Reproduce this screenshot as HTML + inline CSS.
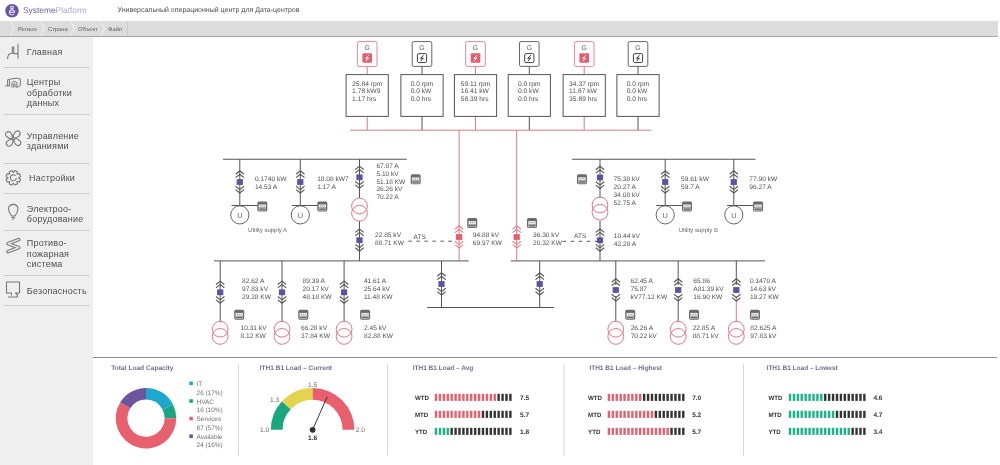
<!DOCTYPE html>
<html><head><meta charset="utf-8">
<style>
html,body{margin:0;padding:0;width:1000px;height:465px;overflow:hidden;background:#fff;font-family:"Liberation Sans", sans-serif;}
#hdr{position:absolute;left:0;top:0;width:1000px;height:21px;background:#fff;}
#crumb{position:absolute;left:0;top:21px;width:998px;height:15px;background:#dcdcdc;border-bottom:1px solid #a6a6a6;}
#side{position:absolute;left:0;top:37px;width:92.5px;height:428px;background:#efefef;}
.sep{position:absolute;left:4px;width:86px;height:1px;background:#cfcfcf;}
.mi{position:absolute;left:26.8px;font-size:9px;line-height:10.6px;color:#4f4f4f;letter-spacing:0.22px;}
svg{position:absolute;left:0;top:0;will-change:transform;}
#side{will-change:transform;}
text{font-family:"Liberation Sans", sans-serif;text-rendering:geometricPrecision;}
</style></head><body>
<div id="hdr"></div>
<div id="crumb"></div>
<div id="side">
 <div class="mi" style="top:10.0px">Главная</div>
 <div class="sep" style="top:29.5px"></div>
 <div class="mi" style="top:40.0px">Центры<br>обработки<br>данных</div>
 <div class="sep" style="top:76.5px"></div>
 <div class="mi" style="top:93.5px">Управление<br>зданиями</div>
 <div class="sep" style="top:126px"></div>
 <div class="mi" style="top:136.0px;left:29px">Настройки</div>
 <div class="sep" style="top:155.5px"></div>
 <div class="mi" style="top:166.5px">Электроо-<br>борудование</div>
 <div class="sep" style="top:193px"></div>
 <div class="mi" style="top:201.0px">Противо-<br>пожарная<br>система</div>
 <div class="sep" style="top:238px"></div>
 <div class="mi" style="top:248.5px">Безопасность</div>
 <div class="sep" style="top:267.5px"></div>
</div>
<svg width="1000" height="465" viewBox="0 0 1000 465">
<!-- header -->
<circle cx="12" cy="10.7" r="6.8" fill="#6a55a2"/>
<g fill="none" stroke="#ece6fa" stroke-width="1.1">
<circle cx="12" cy="7.5" r="1.3"/><path d="M9.5,12.2 H14.6 A2.6,2.6 0 1 0 14.0,14.0"/>
</g>
<text x="23" y="12.9" font-size="8.4" fill="#6d5fa8">Systeme<tspan fill="#aca5d0">Platform</tspan></text>
<text x="117.6" y="12.3" font-size="7" fill="#4c4c4c">Универсальный операционный центр для Дата-центров</text>
<!-- breadcrumb -->
<g fill="none" stroke="#ececec" stroke-width="1.3">
<path d="M10,21 L14,28.5 L10,36"/><path d="M40.5,21 L44.5,28.5 L40.5,36"/><path d="M70.5,21 L74.5,28.5 L70.5,36"/><path d="M100.5,21 L104.5,28.5 L100.5,36"/>
</g>
<line x1="127.5" y1="21" x2="127.5" y2="36" stroke="#cbcbcb" stroke-width="1"/>
<g font-size="5.8" fill="#5a5a5a">
<text x="18" y="30.5">Регион</text><text x="48" y="30.5">Страна</text><text x="78" y="30.5">Объект</text><text x="108" y="30.5">Файл</text>
</g>
<!-- sidebar icons -->
<g fill="none" stroke="#777" stroke-width="1.1" stroke-linecap="round" stroke-linejoin="round">
<path d="M7.5,58.5 Q8,53.5 11.5,53.2 L12.3,53.2 L12.3,47 L13.8,47 L13.8,53.6 L17.5,53.6 M18,44 L18,58"/>
<path d="M5.6,85.8 L9.3,85.8 M7.6,85.6 L7.6,79.6 L12.4,78.8 M9.4,86 L9.4,80.3 M12.4,78.6 Q16.2,77.6 20.4,78.9 L20.4,85.4 L16.9,87.4 M11.9,87.2 L11.9,82.6 Q14.4,79.8 16.9,82.6 L16.9,87.4 M13.7,87 L13.7,83.8 Q14.4,82.9 15.1,83.8 L15.1,87" stroke-width="1.0"/>
<path d="M12.49,137.89 C9.66,139.87 3.16,135.35 6.34,132.45 C9.38,129.69 12.92,134.36 12.49,137.89 M13.91,137.89 C11.93,135.06 16.45,128.56 19.35,131.74 C22.11,134.78 17.44,138.32 13.91,137.89 M13.91,139.31 C16.74,137.33 23.24,141.85 20.06,144.75 C17.02,147.51 13.48,142.84 13.91,139.31 M12.49,139.31 C14.47,142.14 9.95,148.64 7.05,145.46 C4.29,142.42 8.96,138.88 12.49,139.31"/>
<path d="M20.56,179.22 L19.44,181.93 L17.24,181.49 L16.99,181.74 L17.43,183.94 L14.72,185.06 L13.48,183.20 L13.12,183.20 L11.88,185.06 L9.17,183.94 L9.61,181.74 L9.36,181.49 L7.16,181.93 L6.04,179.22 L7.90,177.98 L7.90,177.62 L6.04,176.38 L7.16,173.67 L9.36,174.11 L9.61,173.86 L9.17,171.66 L11.88,170.54 L13.12,172.40 L13.48,172.40 L14.72,170.54 L17.43,171.66 L16.99,173.86 L17.24,174.11 L19.44,173.67 L20.56,176.38 L18.70,177.62 L18.70,177.98 Z M15.23,175.50 A3,3 0 1 0 16.25,178.32"/>
<path d="M11.5,216 Q8.5,212 8.5,208.5 A4.8,4.8 0 0 1 18,208.5 Q18,212 15,216 Z M12,217.5 L14.5,217.5 M12.5,219 L14,219"/>
<path d="M18.6,239.6 L8,243.6 L18.6,247.6 L8,251.6" stroke-width="3.6"/><path d="M18.6,239.6 L8,243.6 L18.6,247.6 L8,251.6" stroke="#efefef" stroke-width="1.5"/>
<path d="M6.5,282 L19.5,282 L19.5,293 L15.5,293 L17.5,295 L17.5,297 L8.5,297 M6.5,282 L6.5,293 L11.5,293 L11.5,295"/>
</g>
<line x1="367.20" y1="66.50" x2="367.20" y2="74.50" stroke="#dc7a85" stroke-width="1.0" />
<line x1="367.20" y1="116.40" x2="367.20" y2="130.20" stroke="#dc7a85" stroke-width="1.0" />
<rect x="357.40" y="41.6" width="19.6" height="24.8" rx="1.6" fill="#fff" stroke="#dc7a85" stroke-width="0.9"/>
<text x="367.20" y="49.60" font-size="6.8" fill="#555"  text-anchor="middle" font-weight="normal" >G</text>
<rect x="362.40" y="53.2" width="9.6" height="9.6" rx="1" fill="#e85d6c"/>
<path d="M368.80,55.2 L365.60,58.3 L368.60,58.0 L365.80,61.2" fill="none" stroke="#fff" stroke-width="1.0"/>
<rect x="346.10" y="74.6" width="42.2" height="41.8" fill="#fff" stroke="#555555" stroke-width="1"/>
<text x="352.12" y="85.66" font-size="6.7" fill="#4e4e4e"  text-anchor="start" font-weight="normal" >25.84 rpm</text>
<text x="352.12" y="93.36" font-size="6.7" fill="#4e4e4e"  text-anchor="start" font-weight="normal" >1.78 kW9</text>
<text x="352.12" y="101.06" font-size="6.7" fill="#4e4e4e"  text-anchor="start" font-weight="normal" >1.17 hrs</text>
<line x1="422.00" y1="66.50" x2="422.00" y2="74.50" stroke="#555555" stroke-width="1.0" />
<line x1="422.00" y1="116.40" x2="422.00" y2="130.20" stroke="#555555" stroke-width="1.0" />
<rect x="412.20" y="41.6" width="19.6" height="24.8" rx="1.6" fill="#fff" stroke="#555555" stroke-width="0.9"/>
<text x="422.00" y="49.60" font-size="6.8" fill="#555"  text-anchor="middle" font-weight="normal" >G</text>
<rect x="417.40" y="53.6" width="9.2" height="9" rx="1.4" fill="#fff" stroke="#444" stroke-width="1"/>
<path d="M423.60,55.2 L420.40,58.3 L423.40,58.0 L420.60,61.2" fill="none" stroke="#333" stroke-width="1.0"/>
<rect x="400.90" y="74.6" width="42.2" height="41.8" fill="#fff" stroke="#555555" stroke-width="1"/>
<text x="410.64" y="85.66" font-size="6.7" fill="#4e4e4e"  text-anchor="start" font-weight="normal" >0.0 rpm</text>
<text x="410.64" y="93.36" font-size="6.7" fill="#4e4e4e"  text-anchor="start" font-weight="normal" >0.0 kW</text>
<text x="410.64" y="101.06" font-size="6.7" fill="#4e4e4e"  text-anchor="start" font-weight="normal" >0.0 hrs</text>
<line x1="475.50" y1="66.50" x2="475.50" y2="74.50" stroke="#dc7a85" stroke-width="1.0" />
<line x1="475.50" y1="116.40" x2="475.50" y2="130.20" stroke="#dc7a85" stroke-width="1.0" />
<rect x="465.70" y="41.6" width="19.6" height="24.8" rx="1.6" fill="#fff" stroke="#dc7a85" stroke-width="0.9"/>
<text x="475.50" y="49.60" font-size="6.8" fill="#555"  text-anchor="middle" font-weight="normal" >G</text>
<rect x="470.70" y="53.2" width="9.6" height="9.6" rx="1" fill="#e85d6c"/>
<path d="M477.10,55.2 L473.90,58.3 L476.90,58.0 L474.10,61.2" fill="none" stroke="#fff" stroke-width="1.0"/>
<rect x="454.40" y="74.6" width="42.2" height="41.8" fill="#fff" stroke="#555555" stroke-width="1"/>
<text x="460.66" y="85.66" font-size="6.7" fill="#4e4e4e"  text-anchor="start" font-weight="normal" >59.11 rpm</text>
<text x="460.66" y="93.36" font-size="6.7" fill="#4e4e4e"  text-anchor="start" font-weight="normal" >16.41 kW</text>
<text x="460.66" y="101.06" font-size="6.7" fill="#4e4e4e"  text-anchor="start" font-weight="normal" >58.39 hrs</text>
<line x1="529.30" y1="66.50" x2="529.30" y2="74.50" stroke="#555555" stroke-width="1.0" />
<line x1="529.30" y1="116.40" x2="529.30" y2="130.20" stroke="#555555" stroke-width="1.0" />
<rect x="519.50" y="41.6" width="19.6" height="24.8" rx="1.6" fill="#fff" stroke="#555555" stroke-width="0.9"/>
<text x="529.30" y="49.60" font-size="6.8" fill="#555"  text-anchor="middle" font-weight="normal" >G</text>
<rect x="524.70" y="53.6" width="9.2" height="9" rx="1.4" fill="#fff" stroke="#444" stroke-width="1"/>
<path d="M530.90,55.2 L527.70,58.3 L530.70,58.0 L527.90,61.2" fill="none" stroke="#333" stroke-width="1.0"/>
<rect x="508.20" y="74.6" width="42.2" height="41.8" fill="#fff" stroke="#555555" stroke-width="1"/>
<text x="517.94" y="85.66" font-size="6.7" fill="#4e4e4e"  text-anchor="start" font-weight="normal" >0.0 rpm</text>
<text x="517.94" y="93.36" font-size="6.7" fill="#4e4e4e"  text-anchor="start" font-weight="normal" >0.0 kW</text>
<text x="517.94" y="101.06" font-size="6.7" fill="#4e4e4e"  text-anchor="start" font-weight="normal" >0.0 hrs</text>
<line x1="584.20" y1="66.50" x2="584.20" y2="74.50" stroke="#dc7a85" stroke-width="1.0" />
<line x1="584.20" y1="116.40" x2="584.20" y2="130.20" stroke="#dc7a85" stroke-width="1.0" />
<rect x="574.40" y="41.6" width="19.6" height="24.8" rx="1.6" fill="#fff" stroke="#dc7a85" stroke-width="0.9"/>
<text x="584.20" y="49.60" font-size="6.8" fill="#555"  text-anchor="middle" font-weight="normal" >G</text>
<rect x="579.40" y="53.2" width="9.6" height="9.6" rx="1" fill="#e85d6c"/>
<path d="M585.80,55.2 L582.60,58.3 L585.60,58.0 L582.80,61.2" fill="none" stroke="#fff" stroke-width="1.0"/>
<rect x="563.10" y="74.6" width="42.2" height="41.8" fill="#fff" stroke="#555555" stroke-width="1"/>
<text x="569.12" y="85.66" font-size="6.7" fill="#4e4e4e"  text-anchor="start" font-weight="normal" >34.37 rpm</text>
<text x="569.12" y="93.36" font-size="6.7" fill="#4e4e4e"  text-anchor="start" font-weight="normal" >11.87 kW</text>
<text x="569.12" y="101.06" font-size="6.7" fill="#4e4e4e"  text-anchor="start" font-weight="normal" >35.89 hrs</text>
<line x1="638.00" y1="66.50" x2="638.00" y2="74.50" stroke="#555555" stroke-width="1.0" />
<line x1="638.00" y1="116.40" x2="638.00" y2="130.20" stroke="#555555" stroke-width="1.0" />
<rect x="628.20" y="41.6" width="19.6" height="24.8" rx="1.6" fill="#fff" stroke="#555555" stroke-width="0.9"/>
<text x="638.00" y="49.60" font-size="6.8" fill="#555"  text-anchor="middle" font-weight="normal" >G</text>
<rect x="633.40" y="53.6" width="9.2" height="9" rx="1.4" fill="#fff" stroke="#444" stroke-width="1"/>
<path d="M639.60,55.2 L636.40,58.3 L639.40,58.0 L636.60,61.2" fill="none" stroke="#333" stroke-width="1.0"/>
<rect x="616.90" y="74.6" width="42.2" height="41.8" fill="#fff" stroke="#555555" stroke-width="1"/>
<text x="626.64" y="85.66" font-size="6.7" fill="#4e4e4e"  text-anchor="start" font-weight="normal" >0.0 rpm</text>
<text x="626.64" y="93.36" font-size="6.7" fill="#4e4e4e"  text-anchor="start" font-weight="normal" >0.0 kW</text>
<text x="626.64" y="101.06" font-size="6.7" fill="#4e4e4e"  text-anchor="start" font-weight="normal" >0.0 hrs</text>
<line x1="350.20" y1="130.20" x2="651.40" y2="130.20" stroke="#dc7a85" stroke-width="1.0" />
<line x1="459.10" y1="130.20" x2="459.10" y2="261.00" stroke="#dc7a85" stroke-width="1.0" />
<line x1="516.70" y1="130.20" x2="516.70" y2="261.00" stroke="#dc7a85" stroke-width="1.0" />
<line x1="223.00" y1="159.25" x2="406.80" y2="159.25" stroke="#555555" stroke-width="1.0" />
<line x1="239.80" y1="159.10" x2="239.80" y2="205.50" stroke="#555555" stroke-width="1.0" />
<polyline points="235.60,174.20 239.80,170.80 244.00,174.20" fill="none" stroke="#555555" stroke-width="1.1"/>
<polyline points="235.60,177.60 239.80,174.20 244.00,177.60" fill="none" stroke="#555555" stroke-width="1.1"/>
<polyline points="235.60,186.20 239.80,189.60 244.00,186.20" fill="none" stroke="#555555" stroke-width="1.1"/>
<polyline points="235.60,189.60 239.80,193.00 244.00,189.60" fill="none" stroke="#555555" stroke-width="1.1"/>
<rect x="236.70" y="179.10" width="6.2" height="5.8" fill="#5e52a2"/>
<line x1="231.50" y1="205.50" x2="257.80" y2="205.50" stroke="#555555" stroke-width="1.0" />
<g transform="translate(257.30,201.40)"><rect x="0" y="0" width="10" height="10" rx="1.7" fill="#6a6a6a"/><rect x="1.3" y="3.1" width="7.4" height="2.9" fill="#f6f6f6"/><rect x="2.6" y="3.8" width="1" height="1.5" fill="#9a9a9a"/><rect x="4.5" y="3.8" width="1" height="1.5" fill="#9a9a9a"/><rect x="6.4" y="3.8" width="1" height="1.5" fill="#9a9a9a"/><rect x="1.6" y="6.7" width="6.8" height="2.1" fill="none" stroke="#d8d8d8" stroke-width="0.6"/></g>
<circle cx="239.80" cy="214.90" r="9.1" fill="#fff" stroke="#555555" stroke-width="0.9"/>
<text x="239.80" y="217.81" font-size="7.4" fill="#6a6a6a"  text-anchor="middle" font-weight="normal" >U</text>
<text x="254.90" y="181.13" font-size="6.6" fill="#4e4e4e"  text-anchor="start" font-weight="normal" >0.1740 kW</text>
<text x="254.90" y="188.93" font-size="6.6" fill="#4e4e4e"  text-anchor="start" font-weight="normal" >14.53 A</text>
<line x1="300.30" y1="159.10" x2="300.30" y2="205.50" stroke="#555555" stroke-width="1.0" />
<polyline points="296.10,174.20 300.30,170.80 304.50,174.20" fill="none" stroke="#555555" stroke-width="1.1"/>
<polyline points="296.10,177.60 300.30,174.20 304.50,177.60" fill="none" stroke="#555555" stroke-width="1.1"/>
<polyline points="296.10,186.20 300.30,189.60 304.50,186.20" fill="none" stroke="#555555" stroke-width="1.1"/>
<polyline points="296.10,189.60 300.30,193.00 304.50,189.60" fill="none" stroke="#555555" stroke-width="1.1"/>
<rect x="297.20" y="179.10" width="6.2" height="5.8" fill="#5e52a2"/>
<line x1="292.00" y1="205.50" x2="317.80" y2="205.50" stroke="#555555" stroke-width="1.0" />
<g transform="translate(317.30,201.40)"><rect x="0" y="0" width="10" height="10" rx="1.7" fill="#6a6a6a"/><rect x="1.3" y="3.1" width="7.4" height="2.9" fill="#f6f6f6"/><rect x="2.6" y="3.8" width="1" height="1.5" fill="#9a9a9a"/><rect x="4.5" y="3.8" width="1" height="1.5" fill="#9a9a9a"/><rect x="6.4" y="3.8" width="1" height="1.5" fill="#9a9a9a"/><rect x="1.6" y="6.7" width="6.8" height="2.1" fill="none" stroke="#d8d8d8" stroke-width="0.6"/></g>
<circle cx="300.30" cy="214.90" r="9.1" fill="#fff" stroke="#555555" stroke-width="0.9"/>
<text x="300.30" y="217.81" font-size="7.4" fill="#6a6a6a"  text-anchor="middle" font-weight="normal" >U</text>
<text x="317.20" y="181.13" font-size="6.6" fill="#4e4e4e"  text-anchor="start" font-weight="normal" >18.08 kW7</text>
<text x="317.20" y="188.93" font-size="6.6" fill="#4e4e4e"  text-anchor="start" font-weight="normal" >1.17 A</text>
<text x="248.10" y="232.41" font-size="6.0" fill="#666"  text-anchor="start" font-weight="normal" >Utility supply A</text>
<line x1="359.50" y1="159.10" x2="359.50" y2="198.00" stroke="#555555" stroke-width="1.0" />
<line x1="359.50" y1="221.00" x2="359.50" y2="261.00" stroke="#555555" stroke-width="1.0" />
<polyline points="355.30,169.50 359.50,166.10 363.70,169.50" fill="none" stroke="#555555" stroke-width="1.1"/>
<polyline points="355.30,172.90 359.50,169.50 363.70,172.90" fill="none" stroke="#555555" stroke-width="1.1"/>
<polyline points="355.30,181.50 359.50,184.90 363.70,181.50" fill="none" stroke="#555555" stroke-width="1.1"/>
<polyline points="355.30,184.90 359.50,188.30 363.70,184.90" fill="none" stroke="#555555" stroke-width="1.1"/>
<rect x="356.40" y="174.40" width="6.2" height="5.8" fill="#5e52a2"/>
<circle cx="359.50" cy="206.00" r="7.9" fill="none" stroke="#e06a76" stroke-width="0.9"/>
<circle cx="359.50" cy="213.20" r="7.9" fill="none" stroke="#e06a76" stroke-width="0.9"/>
<polyline points="355.30,232.40 359.50,229.00 363.70,232.40" fill="none" stroke="#555555" stroke-width="1.1"/>
<polyline points="355.30,235.80 359.50,232.40 363.70,235.80" fill="none" stroke="#555555" stroke-width="1.1"/>
<polyline points="355.30,244.40 359.50,247.80 363.70,244.40" fill="none" stroke="#555555" stroke-width="1.1"/>
<polyline points="355.30,247.80 359.50,251.20 363.70,247.80" fill="none" stroke="#555555" stroke-width="1.1"/>
<rect x="356.40" y="237.30" width="6.2" height="5.8" fill="#5e52a2"/>
<g transform="translate(410.70,174.30)"><rect x="0" y="0" width="10" height="10" rx="1.7" fill="#6a6a6a"/><rect x="1.3" y="3.1" width="7.4" height="2.9" fill="#f6f6f6"/><rect x="2.6" y="3.8" width="1" height="1.5" fill="#9a9a9a"/><rect x="4.5" y="3.8" width="1" height="1.5" fill="#9a9a9a"/><rect x="6.4" y="3.8" width="1" height="1.5" fill="#9a9a9a"/><rect x="1.6" y="6.7" width="6.8" height="2.1" fill="none" stroke="#d8d8d8" stroke-width="0.6"/></g>
<text x="376.40" y="167.73" font-size="6.6" fill="#4e4e4e"  text-anchor="start" font-weight="normal" >67.87 A</text>
<text x="376.40" y="175.63" font-size="6.6" fill="#4e4e4e"  text-anchor="start" font-weight="normal" >5.10 kV</text>
<text x="376.40" y="183.53" font-size="6.6" fill="#4e4e4e"  text-anchor="start" font-weight="normal" >51.18 KW</text>
<text x="376.40" y="191.43" font-size="6.6" fill="#4e4e4e"  text-anchor="start" font-weight="normal" >26.26 kV</text>
<text x="376.40" y="199.33" font-size="6.6" fill="#4e4e4e"  text-anchor="start" font-weight="normal" >70.22 A</text>
<text x="375.00" y="236.93" font-size="6.6" fill="#4e4e4e"  text-anchor="start" font-weight="normal" >22.85 kV</text>
<text x="375.00" y="244.73" font-size="6.6" fill="#4e4e4e"  text-anchor="start" font-weight="normal" >88.71 KW</text>
<text x="413.50" y="238.53" font-size="6.6" fill="#4e4e4e"  text-anchor="start" font-weight="normal" >ATS</text>
<line x1="408.30" y1="241.20" x2="453.00" y2="241.20" stroke="#555555" stroke-width="1" stroke-dasharray="3.5 4.5"/>
<polyline points="454.90,229.20 459.10,225.80 463.30,229.20" fill="none" stroke="#e3848e" stroke-width="1.1"/>
<polyline points="454.90,232.60 459.10,229.20 463.30,232.60" fill="none" stroke="#e3848e" stroke-width="1.1"/>
<polyline points="454.90,241.20 459.10,244.60 463.30,241.20" fill="none" stroke="#e3848e" stroke-width="1.1"/>
<polyline points="454.90,244.60 459.10,248.00 463.30,244.60" fill="none" stroke="#e3848e" stroke-width="1.1"/>
<rect x="456.00" y="234.10" width="6.2" height="5.8" fill="#e85d6c"/>
<g transform="translate(467.20,218.00)"><rect x="0" y="0" width="10" height="10" rx="1.7" fill="#6a6a6a"/><rect x="1.3" y="3.1" width="7.4" height="2.9" fill="#f6f6f6"/><rect x="2.6" y="3.8" width="1" height="1.5" fill="#9a9a9a"/><rect x="4.5" y="3.8" width="1" height="1.5" fill="#9a9a9a"/><rect x="6.4" y="3.8" width="1" height="1.5" fill="#9a9a9a"/><rect x="1.6" y="6.7" width="6.8" height="2.1" fill="none" stroke="#d8d8d8" stroke-width="0.6"/></g>
<text x="472.80" y="237.13" font-size="6.6" fill="#4e4e4e"  text-anchor="start" font-weight="normal" >94.88 kV</text>
<text x="472.80" y="244.73" font-size="6.6" fill="#4e4e4e"  text-anchor="start" font-weight="normal" >69.97 KW</text>
<line x1="572.00" y1="159.25" x2="755.50" y2="159.25" stroke="#555555" stroke-width="1.0" />
<line x1="600.00" y1="159.10" x2="600.00" y2="198.00" stroke="#555555" stroke-width="1.0" />
<line x1="600.00" y1="221.00" x2="600.00" y2="261.00" stroke="#555555" stroke-width="1.0" />
<polyline points="595.80,169.70 600.00,166.30 604.20,169.70" fill="none" stroke="#555555" stroke-width="1.1"/>
<polyline points="595.80,173.10 600.00,169.70 604.20,173.10" fill="none" stroke="#555555" stroke-width="1.1"/>
<polyline points="595.80,181.70 600.00,185.10 604.20,181.70" fill="none" stroke="#555555" stroke-width="1.1"/>
<polyline points="595.80,185.10 600.00,188.50 604.20,185.10" fill="none" stroke="#555555" stroke-width="1.1"/>
<rect x="596.90" y="174.60" width="6.2" height="5.8" fill="#5e52a2"/>
<circle cx="600.00" cy="205.00" r="7.9" fill="none" stroke="#e06a76" stroke-width="0.9"/>
<circle cx="600.00" cy="212.20" r="7.9" fill="none" stroke="#e06a76" stroke-width="0.9"/>
<polyline points="595.80,232.40 600.00,229.00 604.20,232.40" fill="none" stroke="#555555" stroke-width="1.1"/>
<polyline points="595.80,235.80 600.00,232.40 604.20,235.80" fill="none" stroke="#555555" stroke-width="1.1"/>
<polyline points="595.80,244.40 600.00,247.80 604.20,244.40" fill="none" stroke="#555555" stroke-width="1.1"/>
<polyline points="595.80,247.80 600.00,251.20 604.20,247.80" fill="none" stroke="#555555" stroke-width="1.1"/>
<rect x="596.90" y="237.30" width="6.2" height="5.8" fill="#5e52a2"/>
<g transform="translate(577.00,174.20)"><rect x="0" y="0" width="10" height="10" rx="1.7" fill="#6a6a6a"/><rect x="1.3" y="3.1" width="7.4" height="2.9" fill="#f6f6f6"/><rect x="2.6" y="3.8" width="1" height="1.5" fill="#9a9a9a"/><rect x="4.5" y="3.8" width="1" height="1.5" fill="#9a9a9a"/><rect x="6.4" y="3.8" width="1" height="1.5" fill="#9a9a9a"/><rect x="1.6" y="6.7" width="6.8" height="2.1" fill="none" stroke="#d8d8d8" stroke-width="0.6"/></g>
<text x="613.60" y="181.23" font-size="6.6" fill="#4e4e4e"  text-anchor="start" font-weight="normal" >75.38 kV</text>
<text x="613.60" y="189.03" font-size="6.6" fill="#4e4e4e"  text-anchor="start" font-weight="normal" >20.27 A</text>
<text x="613.60" y="196.83" font-size="6.6" fill="#4e4e4e"  text-anchor="start" font-weight="normal" >34.08 kV</text>
<text x="613.60" y="204.63" font-size="6.6" fill="#4e4e4e"  text-anchor="start" font-weight="normal" >52.75 A</text>
<text x="613.80" y="238.13" font-size="6.6" fill="#4e4e4e"  text-anchor="start" font-weight="normal" >10.44 kV</text>
<text x="613.80" y="245.83" font-size="6.6" fill="#4e4e4e"  text-anchor="start" font-weight="normal" >42.28 A</text>
<text x="574.00" y="238.13" font-size="6.6" fill="#4e4e4e"  text-anchor="start" font-weight="normal" >ATS</text>
<line x1="562.70" y1="241.30" x2="597.00" y2="241.30" stroke="#555555" stroke-width="1" stroke-dasharray="3.5 4.5"/>
<polyline points="512.50,229.20 516.70,225.80 520.90,229.20" fill="none" stroke="#e3848e" stroke-width="1.1"/>
<polyline points="512.50,232.60 516.70,229.20 520.90,232.60" fill="none" stroke="#e3848e" stroke-width="1.1"/>
<polyline points="512.50,241.20 516.70,244.60 520.90,241.20" fill="none" stroke="#e3848e" stroke-width="1.1"/>
<polyline points="512.50,244.60 516.70,248.00 520.90,244.60" fill="none" stroke="#e3848e" stroke-width="1.1"/>
<rect x="513.60" y="234.10" width="6.2" height="5.8" fill="#e85d6c"/>
<g transform="translate(527.00,218.00)"><rect x="0" y="0" width="10" height="10" rx="1.7" fill="#6a6a6a"/><rect x="1.3" y="3.1" width="7.4" height="2.9" fill="#f6f6f6"/><rect x="2.6" y="3.8" width="1" height="1.5" fill="#9a9a9a"/><rect x="4.5" y="3.8" width="1" height="1.5" fill="#9a9a9a"/><rect x="6.4" y="3.8" width="1" height="1.5" fill="#9a9a9a"/><rect x="1.6" y="6.7" width="6.8" height="2.1" fill="none" stroke="#d8d8d8" stroke-width="0.6"/></g>
<text x="533.00" y="237.03" font-size="6.6" fill="#4e4e4e"  text-anchor="start" font-weight="normal" >36.30 kV</text>
<text x="533.00" y="244.53" font-size="6.6" fill="#4e4e4e"  text-anchor="start" font-weight="normal" >20.32 KW</text>
<line x1="665.20" y1="159.10" x2="665.20" y2="205.50" stroke="#555555" stroke-width="1.0" />
<polyline points="661.00,174.20 665.20,170.80 669.40,174.20" fill="none" stroke="#555555" stroke-width="1.1"/>
<polyline points="661.00,177.60 665.20,174.20 669.40,177.60" fill="none" stroke="#555555" stroke-width="1.1"/>
<polyline points="661.00,186.20 665.20,189.60 669.40,186.20" fill="none" stroke="#555555" stroke-width="1.1"/>
<polyline points="661.00,189.60 665.20,193.00 669.40,189.60" fill="none" stroke="#555555" stroke-width="1.1"/>
<rect x="662.10" y="179.10" width="6.2" height="5.8" fill="#5e52a2"/>
<line x1="656.20" y1="205.50" x2="682.50" y2="205.50" stroke="#555555" stroke-width="1.0" />
<g transform="translate(682.00,201.40)"><rect x="0" y="0" width="10" height="10" rx="1.7" fill="#6a6a6a"/><rect x="1.3" y="3.1" width="7.4" height="2.9" fill="#f6f6f6"/><rect x="2.6" y="3.8" width="1" height="1.5" fill="#9a9a9a"/><rect x="4.5" y="3.8" width="1" height="1.5" fill="#9a9a9a"/><rect x="6.4" y="3.8" width="1" height="1.5" fill="#9a9a9a"/><rect x="1.6" y="6.7" width="6.8" height="2.1" fill="none" stroke="#d8d8d8" stroke-width="0.6"/></g>
<circle cx="665.20" cy="214.90" r="9.1" fill="#fff" stroke="#555555" stroke-width="0.9"/>
<text x="665.20" y="217.81" font-size="7.4" fill="#6a6a6a"  text-anchor="middle" font-weight="normal" >U</text>
<text x="681.00" y="181.13" font-size="6.6" fill="#4e4e4e"  text-anchor="start" font-weight="normal" >59.61 kW</text>
<text x="681.00" y="188.93" font-size="6.6" fill="#4e4e4e"  text-anchor="start" font-weight="normal" >59.7 A</text>
<line x1="733.80" y1="159.10" x2="733.80" y2="205.50" stroke="#555555" stroke-width="1.0" />
<polyline points="729.60,174.20 733.80,170.80 738.00,174.20" fill="none" stroke="#555555" stroke-width="1.1"/>
<polyline points="729.60,177.60 733.80,174.20 738.00,177.60" fill="none" stroke="#555555" stroke-width="1.1"/>
<polyline points="729.60,186.20 733.80,189.60 738.00,186.20" fill="none" stroke="#555555" stroke-width="1.1"/>
<polyline points="729.60,189.60 733.80,193.00 738.00,189.60" fill="none" stroke="#555555" stroke-width="1.1"/>
<rect x="730.70" y="179.10" width="6.2" height="5.8" fill="#5e52a2"/>
<line x1="727.10" y1="205.50" x2="753.60" y2="205.50" stroke="#555555" stroke-width="1.0" />
<g transform="translate(753.10,201.40)"><rect x="0" y="0" width="10" height="10" rx="1.7" fill="#6a6a6a"/><rect x="1.3" y="3.1" width="7.4" height="2.9" fill="#f6f6f6"/><rect x="2.6" y="3.8" width="1" height="1.5" fill="#9a9a9a"/><rect x="4.5" y="3.8" width="1" height="1.5" fill="#9a9a9a"/><rect x="6.4" y="3.8" width="1" height="1.5" fill="#9a9a9a"/><rect x="1.6" y="6.7" width="6.8" height="2.1" fill="none" stroke="#d8d8d8" stroke-width="0.6"/></g>
<circle cx="733.80" cy="214.90" r="9.1" fill="#fff" stroke="#555555" stroke-width="0.9"/>
<text x="733.80" y="217.81" font-size="7.4" fill="#6a6a6a"  text-anchor="middle" font-weight="normal" >U</text>
<text x="749.30" y="181.13" font-size="6.6" fill="#4e4e4e"  text-anchor="start" font-weight="normal" >77.90 kW</text>
<text x="749.30" y="188.93" font-size="6.6" fill="#4e4e4e"  text-anchor="start" font-weight="normal" >96.27 A</text>
<text x="678.70" y="232.41" font-size="6.0" fill="#666"  text-anchor="start" font-weight="normal" >Utility supply B</text>
<line x1="214.00" y1="260.90" x2="468.70" y2="260.90" stroke="#555555" stroke-width="1.0" />
<line x1="510.70" y1="260.90" x2="765.00" y2="260.90" stroke="#555555" stroke-width="1.0" />
<line x1="427.20" y1="307.50" x2="554.20" y2="307.50" stroke="#555555" stroke-width="1.0" />
<line x1="441.50" y1="260.90" x2="441.50" y2="307.50" stroke="#555555" stroke-width="1.0" />
<polyline points="437.30,276.20 441.50,272.80 445.70,276.20" fill="none" stroke="#555555" stroke-width="1.1"/>
<polyline points="437.30,279.60 441.50,276.20 445.70,279.60" fill="none" stroke="#555555" stroke-width="1.1"/>
<polyline points="437.30,288.20 441.50,291.60 445.70,288.20" fill="none" stroke="#555555" stroke-width="1.1"/>
<polyline points="437.30,291.60 441.50,295.00 445.70,291.60" fill="none" stroke="#555555" stroke-width="1.1"/>
<rect x="438.40" y="281.10" width="6.2" height="5.8" fill="#5e52a2"/>
<line x1="539.70" y1="260.90" x2="539.70" y2="307.50" stroke="#555555" stroke-width="1.0" />
<polyline points="535.50,276.20 539.70,272.80 543.90,276.20" fill="none" stroke="#555555" stroke-width="1.1"/>
<polyline points="535.50,279.60 539.70,276.20 543.90,279.60" fill="none" stroke="#555555" stroke-width="1.1"/>
<polyline points="535.50,288.20 539.70,291.60 543.90,288.20" fill="none" stroke="#555555" stroke-width="1.1"/>
<polyline points="535.50,291.60 539.70,295.00 543.90,291.60" fill="none" stroke="#555555" stroke-width="1.1"/>
<rect x="536.60" y="281.10" width="6.2" height="5.8" fill="#5e52a2"/>
<line x1="220.20" y1="260.90" x2="220.20" y2="321.50" stroke="#555555" stroke-width="1.0" />
<polyline points="216.00,284.50 220.20,281.10 224.40,284.50" fill="none" stroke="#555555" stroke-width="1.1"/>
<polyline points="216.00,287.90 220.20,284.50 224.40,287.90" fill="none" stroke="#555555" stroke-width="1.1"/>
<polyline points="216.00,296.50 220.20,299.90 224.40,296.50" fill="none" stroke="#555555" stroke-width="1.1"/>
<polyline points="216.00,299.90 220.20,303.30 224.40,299.90" fill="none" stroke="#555555" stroke-width="1.1"/>
<rect x="217.10" y="289.40" width="6.2" height="5.8" fill="#5e52a2"/>
<circle cx="220.20" cy="329.20" r="7.9" fill="none" stroke="#e06a76" stroke-width="0.9"/>
<circle cx="220.20" cy="336.40" r="7.9" fill="none" stroke="#e06a76" stroke-width="0.9"/>
<g transform="translate(234.20,309.80)"><rect x="0" y="0" width="10" height="10" rx="1.7" fill="#6a6a6a"/><rect x="1.3" y="3.1" width="7.4" height="2.9" fill="#f6f6f6"/><rect x="2.6" y="3.8" width="1" height="1.5" fill="#9a9a9a"/><rect x="4.5" y="3.8" width="1" height="1.5" fill="#9a9a9a"/><rect x="6.4" y="3.8" width="1" height="1.5" fill="#9a9a9a"/><rect x="1.6" y="6.7" width="6.8" height="2.1" fill="none" stroke="#d8d8d8" stroke-width="0.6"/></g>
<text x="242.00" y="283.43" font-size="6.6" fill="#4e4e4e"  text-anchor="start" font-weight="normal" >82.62 A</text>
<text x="242.00" y="291.13" font-size="6.6" fill="#4e4e4e"  text-anchor="start" font-weight="normal" >97.83 kV</text>
<text x="242.00" y="298.83" font-size="6.6" fill="#4e4e4e"  text-anchor="start" font-weight="normal" >29.28 KW</text>
<text x="240.50" y="330.03" font-size="6.6" fill="#4e4e4e"  text-anchor="start" font-weight="normal" >10.31 kV</text>
<text x="240.50" y="337.63" font-size="6.6" fill="#4e4e4e"  text-anchor="start" font-weight="normal" >8.12 KW</text>
<line x1="282.00" y1="260.90" x2="282.00" y2="321.50" stroke="#555555" stroke-width="1.0" />
<polyline points="277.80,284.50 282.00,281.10 286.20,284.50" fill="none" stroke="#555555" stroke-width="1.1"/>
<polyline points="277.80,287.90 282.00,284.50 286.20,287.90" fill="none" stroke="#555555" stroke-width="1.1"/>
<polyline points="277.80,296.50 282.00,299.90 286.20,296.50" fill="none" stroke="#555555" stroke-width="1.1"/>
<polyline points="277.80,299.90 282.00,303.30 286.20,299.90" fill="none" stroke="#555555" stroke-width="1.1"/>
<rect x="278.90" y="289.40" width="6.2" height="5.8" fill="#5e52a2"/>
<circle cx="282.00" cy="329.20" r="7.9" fill="none" stroke="#e06a76" stroke-width="0.9"/>
<circle cx="282.00" cy="336.40" r="7.9" fill="none" stroke="#e06a76" stroke-width="0.9"/>
<g transform="translate(298.30,309.80)"><rect x="0" y="0" width="10" height="10" rx="1.7" fill="#6a6a6a"/><rect x="1.3" y="3.1" width="7.4" height="2.9" fill="#f6f6f6"/><rect x="2.6" y="3.8" width="1" height="1.5" fill="#9a9a9a"/><rect x="4.5" y="3.8" width="1" height="1.5" fill="#9a9a9a"/><rect x="6.4" y="3.8" width="1" height="1.5" fill="#9a9a9a"/><rect x="1.6" y="6.7" width="6.8" height="2.1" fill="none" stroke="#d8d8d8" stroke-width="0.6"/></g>
<text x="302.60" y="283.43" font-size="6.6" fill="#4e4e4e"  text-anchor="start" font-weight="normal" >89.39 A</text>
<text x="302.60" y="291.13" font-size="6.6" fill="#4e4e4e"  text-anchor="start" font-weight="normal" >20.17 kV</text>
<text x="302.60" y="298.83" font-size="6.6" fill="#4e4e4e"  text-anchor="start" font-weight="normal" >48.18 KW</text>
<text x="301.00" y="330.03" font-size="6.6" fill="#4e4e4e"  text-anchor="start" font-weight="normal" >66.28 kV</text>
<text x="301.00" y="337.63" font-size="6.6" fill="#4e4e4e"  text-anchor="start" font-weight="normal" >37.84 KW</text>
<line x1="344.10" y1="260.90" x2="344.10" y2="321.50" stroke="#555555" stroke-width="1.0" />
<polyline points="339.90,284.50 344.10,281.10 348.30,284.50" fill="none" stroke="#555555" stroke-width="1.1"/>
<polyline points="339.90,287.90 344.10,284.50 348.30,287.90" fill="none" stroke="#555555" stroke-width="1.1"/>
<polyline points="339.90,296.50 344.10,299.90 348.30,296.50" fill="none" stroke="#555555" stroke-width="1.1"/>
<polyline points="339.90,299.90 344.10,303.30 348.30,299.90" fill="none" stroke="#555555" stroke-width="1.1"/>
<rect x="341.00" y="289.40" width="6.2" height="5.8" fill="#5e52a2"/>
<circle cx="344.10" cy="329.20" r="7.9" fill="none" stroke="#e06a76" stroke-width="0.9"/>
<circle cx="344.10" cy="336.40" r="7.9" fill="none" stroke="#e06a76" stroke-width="0.9"/>
<g transform="translate(360.10,309.80)"><rect x="0" y="0" width="10" height="10" rx="1.7" fill="#6a6a6a"/><rect x="1.3" y="3.1" width="7.4" height="2.9" fill="#f6f6f6"/><rect x="2.6" y="3.8" width="1" height="1.5" fill="#9a9a9a"/><rect x="4.5" y="3.8" width="1" height="1.5" fill="#9a9a9a"/><rect x="6.4" y="3.8" width="1" height="1.5" fill="#9a9a9a"/><rect x="1.6" y="6.7" width="6.8" height="2.1" fill="none" stroke="#d8d8d8" stroke-width="0.6"/></g>
<text x="363.90" y="283.43" font-size="6.6" fill="#4e4e4e"  text-anchor="start" font-weight="normal" >41.61 A</text>
<text x="363.90" y="291.13" font-size="6.6" fill="#4e4e4e"  text-anchor="start" font-weight="normal" >25.64 kV</text>
<text x="363.90" y="298.83" font-size="6.6" fill="#4e4e4e"  text-anchor="start" font-weight="normal" >11.48 KW</text>
<text x="364.10" y="330.03" font-size="6.6" fill="#4e4e4e"  text-anchor="start" font-weight="normal" >2.45 kV</text>
<text x="364.10" y="337.63" font-size="6.6" fill="#4e4e4e"  text-anchor="start" font-weight="normal" >82.88 KW</text>
<line x1="615.80" y1="260.90" x2="615.80" y2="285.00" stroke="#555555" stroke-width="1.0" />
<line x1="615.80" y1="296.00" x2="615.80" y2="321.50" stroke="#555555" stroke-width="1.0" />
<polyline points="611.60,282.20 615.80,278.80 620.00,282.20" fill="none" stroke="#555555" stroke-width="1.1"/>
<polyline points="611.60,285.60 615.80,282.20 620.00,285.60" fill="none" stroke="#555555" stroke-width="1.1"/>
<polyline points="611.60,294.20 615.80,297.60 620.00,294.20" fill="none" stroke="#555555" stroke-width="1.1"/>
<polyline points="611.60,297.60 615.80,301.00 620.00,297.60" fill="none" stroke="#555555" stroke-width="1.1"/>
<rect x="612.70" y="287.10" width="6.2" height="5.8" fill="#5e52a2"/>
<circle cx="615.80" cy="329.20" r="7.9" fill="none" stroke="#e06a76" stroke-width="0.9"/>
<circle cx="615.80" cy="336.40" r="7.9" fill="none" stroke="#e06a76" stroke-width="0.9"/>
<g transform="translate(625.20,309.80)"><rect x="0" y="0" width="10" height="10" rx="1.7" fill="#6a6a6a"/><rect x="1.3" y="3.1" width="7.4" height="2.9" fill="#f6f6f6"/><rect x="2.6" y="3.8" width="1" height="1.5" fill="#9a9a9a"/><rect x="4.5" y="3.8" width="1" height="1.5" fill="#9a9a9a"/><rect x="6.4" y="3.8" width="1" height="1.5" fill="#9a9a9a"/><rect x="1.6" y="6.7" width="6.8" height="2.1" fill="none" stroke="#d8d8d8" stroke-width="0.6"/></g>
<text x="630.50" y="283.23" font-size="6.6" fill="#4e4e4e"  text-anchor="start" font-weight="normal" >62.45 A</text>
<text x="630.50" y="290.93" font-size="6.6" fill="#4e4e4e"  text-anchor="start" font-weight="normal" >75.87</text>
<text x="630.50" y="298.63" font-size="6.6" fill="#4e4e4e"  text-anchor="start" font-weight="normal" >kV77.12 KW</text>
<text x="630.70" y="330.23" font-size="6.6" fill="#4e4e4e"  text-anchor="start" font-weight="normal" >26.26 A</text>
<text x="630.70" y="337.83" font-size="6.6" fill="#4e4e4e"  text-anchor="start" font-weight="normal" >70.22 kV</text>
<line x1="678.20" y1="260.90" x2="678.20" y2="285.00" stroke="#555555" stroke-width="1.0" />
<line x1="678.20" y1="296.00" x2="678.20" y2="321.50" stroke="#555555" stroke-width="1.0" />
<polyline points="674.00,282.20 678.20,278.80 682.40,282.20" fill="none" stroke="#555555" stroke-width="1.1"/>
<polyline points="674.00,285.60 678.20,282.20 682.40,285.60" fill="none" stroke="#555555" stroke-width="1.1"/>
<polyline points="674.00,294.20 678.20,297.60 682.40,294.20" fill="none" stroke="#555555" stroke-width="1.1"/>
<polyline points="674.00,297.60 678.20,301.00 682.40,297.60" fill="none" stroke="#555555" stroke-width="1.1"/>
<rect x="675.10" y="287.10" width="6.2" height="5.8" fill="#5e52a2"/>
<circle cx="678.20" cy="329.20" r="7.9" fill="none" stroke="#e06a76" stroke-width="0.9"/>
<circle cx="678.20" cy="336.40" r="7.9" fill="none" stroke="#e06a76" stroke-width="0.9"/>
<g transform="translate(689.00,309.80)"><rect x="0" y="0" width="10" height="10" rx="1.7" fill="#6a6a6a"/><rect x="1.3" y="3.1" width="7.4" height="2.9" fill="#f6f6f6"/><rect x="2.6" y="3.8" width="1" height="1.5" fill="#9a9a9a"/><rect x="4.5" y="3.8" width="1" height="1.5" fill="#9a9a9a"/><rect x="6.4" y="3.8" width="1" height="1.5" fill="#9a9a9a"/><rect x="1.6" y="6.7" width="6.8" height="2.1" fill="none" stroke="#d8d8d8" stroke-width="0.6"/></g>
<text x="693.30" y="283.23" font-size="6.6" fill="#4e4e4e"  text-anchor="start" font-weight="normal" >65.86</text>
<text x="693.30" y="290.93" font-size="6.6" fill="#4e4e4e"  text-anchor="start" font-weight="normal" >A81.39 kV</text>
<text x="693.30" y="298.63" font-size="6.6" fill="#4e4e4e"  text-anchor="start" font-weight="normal" >16.90 KW</text>
<text x="692.70" y="330.23" font-size="6.6" fill="#4e4e4e"  text-anchor="start" font-weight="normal" >22.85 A</text>
<text x="692.70" y="337.83" font-size="6.6" fill="#4e4e4e"  text-anchor="start" font-weight="normal" >88.71 kV</text>
<line x1="736.30" y1="260.90" x2="736.30" y2="285.00" stroke="#555555" stroke-width="1.0" />
<line x1="736.30" y1="296.00" x2="736.30" y2="321.50" stroke="#dc7a85" stroke-width="1.0" />
<polyline points="732.10,282.20 736.30,278.80 740.50,282.20" fill="none" stroke="#555555" stroke-width="1.1"/>
<polyline points="732.10,285.60 736.30,282.20 740.50,285.60" fill="none" stroke="#555555" stroke-width="1.1"/>
<polyline points="732.10,294.20 736.30,297.60 740.50,294.20" fill="none" stroke="#555555" stroke-width="1.1"/>
<polyline points="732.10,297.60 736.30,301.00 740.50,297.60" fill="none" stroke="#555555" stroke-width="1.1"/>
<rect x="733.20" y="287.10" width="6.2" height="5.8" fill="#5e52a2"/>
<circle cx="736.30" cy="329.20" r="7.9" fill="none" stroke="#e06a76" stroke-width="0.9"/>
<circle cx="736.30" cy="336.40" r="7.9" fill="none" stroke="#e06a76" stroke-width="0.9"/>
<g transform="translate(750.00,309.80)"><rect x="0" y="0" width="10" height="10" rx="1.7" fill="#6a6a6a"/><rect x="1.3" y="3.1" width="7.4" height="2.9" fill="#f6f6f6"/><rect x="2.6" y="3.8" width="1" height="1.5" fill="#9a9a9a"/><rect x="4.5" y="3.8" width="1" height="1.5" fill="#9a9a9a"/><rect x="6.4" y="3.8" width="1" height="1.5" fill="#9a9a9a"/><rect x="1.6" y="6.7" width="6.8" height="2.1" fill="none" stroke="#d8d8d8" stroke-width="0.6"/></g>
<text x="749.90" y="283.23" font-size="6.6" fill="#4e4e4e"  text-anchor="start" font-weight="normal" >0.1470 A</text>
<text x="749.90" y="290.93" font-size="6.6" fill="#4e4e4e"  text-anchor="start" font-weight="normal" >14.63 kV</text>
<text x="749.90" y="298.63" font-size="6.6" fill="#4e4e4e"  text-anchor="start" font-weight="normal" >19.27 KW</text>
<text x="750.30" y="330.23" font-size="6.6" fill="#4e4e4e"  text-anchor="start" font-weight="normal" >82.625 A</text>
<text x="750.30" y="337.83" font-size="6.6" fill="#4e4e4e"  text-anchor="start" font-weight="normal" >97.83 kV</text>
<line x1="93.00" y1="357.50" x2="997.00" y2="357.50" stroke="#8d8d8d" stroke-width="1" />
<line x1="238.50" y1="364.20" x2="238.50" y2="455.60" stroke="#d6d6d6" stroke-width="1" />
<line x1="387.50" y1="364.20" x2="387.50" y2="455.60" stroke="#d6d6d6" stroke-width="1" />
<line x1="564.00" y1="364.20" x2="564.00" y2="455.60" stroke="#d6d6d6" stroke-width="1" />
<line x1="743.50" y1="364.20" x2="743.50" y2="455.60" stroke="#d6d6d6" stroke-width="1" />
<text x="111.30" y="370.13" font-size="6.6" fill="#6f6c96"  text-anchor="start" font-weight="bold" >Total Load Capacity</text>
<text x="259.80" y="370.09" font-size="6.5" fill="#6f6c96"  text-anchor="start" font-weight="bold" >ITH1 B1 Load – Current</text>
<text x="412.70" y="370.09" font-size="6.5" fill="#6f6c96"  text-anchor="start" font-weight="bold" >ITH1 B1 Load – Avg</text>
<text x="589.40" y="370.09" font-size="6.5" fill="#6f6c96"  text-anchor="start" font-weight="bold" >ITH1 B1 Load – Highest</text>
<text x="766.60" y="370.09" font-size="6.5" fill="#6f6c96"  text-anchor="start" font-weight="bold" >ITH1 B1 Load – Lowest</text>
<path d="M146.00,387.90 A30.3,30.3 0 0 1 173.00,404.44 L162.57,409.76 A18.6,18.6 0 0 0 146.00,399.60 Z" fill="#1ea8cc"/>
<path d="M173.00,404.44 A30.3,30.3 0 0 1 176.30,418.20 L164.60,418.20 A18.6,18.6 0 0 0 162.57,409.76 Z" fill="#19a680"/>
<path d="M176.30,418.20 A30.3,30.3 0 1 1 120.30,402.14 L130.23,408.34 A18.6,18.6 0 1 0 164.60,418.20 Z" fill="#e8606e"/>
<path d="M120.30,402.14 A30.3,30.3 0 0 1 146.00,387.90 L146.00,399.60 A18.6,18.6 0 0 0 130.23,408.34 Z" fill="#6b569e"/>
<rect x="189.3" y="381.60" width="3.6" height="3.6" fill="#1aa9c9"/>
<text x="196.60" y="385.95" font-size="6.4" fill="#707070"  text-anchor="start" font-weight="normal" >IT</text>
<text x="196.60" y="394.65" font-size="6.4" fill="#707070"  text-anchor="start" font-weight="normal" >26 (17%)</text>
<rect x="189.3" y="399.20" width="3.6" height="3.6" fill="#17a67a"/>
<text x="196.60" y="403.55" font-size="6.4" fill="#707070"  text-anchor="start" font-weight="normal" >HVAC</text>
<text x="196.60" y="412.25" font-size="6.4" fill="#707070"  text-anchor="start" font-weight="normal" >16 (10%)</text>
<rect x="189.3" y="416.80" width="3.6" height="3.6" fill="#e8606e"/>
<text x="196.60" y="421.15" font-size="6.4" fill="#707070"  text-anchor="start" font-weight="normal" >Services</text>
<text x="196.60" y="429.85" font-size="6.4" fill="#707070"  text-anchor="start" font-weight="normal" >87 (57%)</text>
<rect x="189.3" y="434.40" width="3.6" height="3.6" fill="#6b569e"/>
<text x="196.60" y="438.75" font-size="6.4" fill="#707070"  text-anchor="start" font-weight="normal" >Available</text>
<text x="196.60" y="447.45" font-size="6.4" fill="#707070"  text-anchor="start" font-weight="normal" >24 (16%)</text>
<path d="M270.80,429.80 A41.8,41.8 0 0 1 282.03,401.29 L290.66,409.34 A30,30 0 0 0 282.60,429.80 Z" fill="#1aa77d"/>
<path d="M282.03,401.29 A41.8,41.8 0 0 1 312.60,388.00 L312.60,399.80 A30,30 0 0 0 290.66,409.34 Z" fill="#e3d34f"/>
<path d="M312.60,388.00 A41.8,41.8 0 0 1 354.40,429.80 L342.60,429.80 A30,30 0 0 0 312.60,399.80 Z" fill="#e8606e"/>
<line x1="312.60" y1="429.80" x2="327.20" y2="396.80" stroke="#333" stroke-width="1" />
<circle cx="312.6" cy="429.8" r="2.9" fill="#333"/>
<text x="264.50" y="431.73" font-size="6.6" fill="#666"  text-anchor="middle" font-weight="normal" >1.0</text>
<text x="360.30" y="431.73" font-size="6.6" fill="#666"  text-anchor="middle" font-weight="normal" >2.0</text>
<text x="274.60" y="402.33" font-size="6.6" fill="#666"  text-anchor="middle" font-weight="normal" >1.3</text>
<text x="312.70" y="386.63" font-size="6.6" fill="#666"  text-anchor="middle" font-weight="normal" >1.5</text>
<text x="312.60" y="440.33" font-size="6.6" fill="#333"  text-anchor="middle" font-weight="bold" >1.6</text>
<text x="414.90" y="399.88" font-size="6.2" fill="#333"  text-anchor="start" font-weight="bold" >WTD</text>
<rect x="434.80" y="393.80" width="2.4" height="7.1" fill="#e8606e"/>
<rect x="438.72" y="393.80" width="2.4" height="7.1" fill="#e8606e"/>
<rect x="442.63" y="393.80" width="2.4" height="7.1" fill="#e8606e"/>
<rect x="446.55" y="393.80" width="2.4" height="7.1" fill="#e8606e"/>
<rect x="450.46" y="393.80" width="2.4" height="7.1" fill="#e8606e"/>
<rect x="454.38" y="393.80" width="2.4" height="7.1" fill="#e8606e"/>
<rect x="458.29" y="393.80" width="2.4" height="7.1" fill="#e8606e"/>
<rect x="462.21" y="393.80" width="2.4" height="7.1" fill="#e8606e"/>
<rect x="466.12" y="393.80" width="2.4" height="7.1" fill="#e8606e"/>
<rect x="470.04" y="393.80" width="2.4" height="7.1" fill="#e8606e"/>
<rect x="473.95" y="393.80" width="2.4" height="7.1" fill="#e8606e"/>
<rect x="477.87" y="393.80" width="2.4" height="7.1" fill="#e8606e"/>
<rect x="481.78" y="393.80" width="2.4" height="7.1" fill="#e8606e"/>
<rect x="485.69" y="393.80" width="2.4" height="7.1" fill="#e8606e"/>
<rect x="489.61" y="393.80" width="2.4" height="7.1" fill="#e8606e"/>
<rect x="493.53" y="393.80" width="2.4" height="7.1" fill="#e8606e"/>
<rect x="497.44" y="393.80" width="2.4" height="7.1" fill="#333"/>
<rect x="501.36" y="393.80" width="2.4" height="7.1" fill="#333"/>
<rect x="505.27" y="393.80" width="2.4" height="7.1" fill="#333"/>
<rect x="509.19" y="393.80" width="2.4" height="7.1" fill="#333"/>
<text x="520.00" y="399.99" font-size="6.5" fill="#333"  text-anchor="start" font-weight="bold" >7.5</text>
<text x="414.90" y="416.88" font-size="6.2" fill="#333"  text-anchor="start" font-weight="bold" >MTD</text>
<rect x="434.80" y="410.80" width="2.4" height="7.1" fill="#e8606e"/>
<rect x="438.72" y="410.80" width="2.4" height="7.1" fill="#e8606e"/>
<rect x="442.63" y="410.80" width="2.4" height="7.1" fill="#e8606e"/>
<rect x="446.55" y="410.80" width="2.4" height="7.1" fill="#e8606e"/>
<rect x="450.46" y="410.80" width="2.4" height="7.1" fill="#e8606e"/>
<rect x="454.38" y="410.80" width="2.4" height="7.1" fill="#e8606e"/>
<rect x="458.29" y="410.80" width="2.4" height="7.1" fill="#e8606e"/>
<rect x="462.21" y="410.80" width="2.4" height="7.1" fill="#e8606e"/>
<rect x="466.12" y="410.80" width="2.4" height="7.1" fill="#e8606e"/>
<rect x="470.04" y="410.80" width="2.4" height="7.1" fill="#e8606e"/>
<rect x="473.95" y="410.80" width="2.4" height="7.1" fill="#e8606e"/>
<rect x="477.87" y="410.80" width="2.4" height="7.1" fill="#e8606e"/>
<rect x="481.78" y="410.80" width="2.4" height="7.1" fill="#333"/>
<rect x="485.69" y="410.80" width="2.4" height="7.1" fill="#333"/>
<rect x="489.61" y="410.80" width="2.4" height="7.1" fill="#333"/>
<rect x="493.53" y="410.80" width="2.4" height="7.1" fill="#333"/>
<rect x="497.44" y="410.80" width="2.4" height="7.1" fill="#333"/>
<rect x="501.36" y="410.80" width="2.4" height="7.1" fill="#333"/>
<rect x="505.27" y="410.80" width="2.4" height="7.1" fill="#333"/>
<rect x="509.19" y="410.80" width="2.4" height="7.1" fill="#333"/>
<text x="520.00" y="416.99" font-size="6.5" fill="#333"  text-anchor="start" font-weight="bold" >5.7</text>
<text x="414.90" y="433.88" font-size="6.2" fill="#333"  text-anchor="start" font-weight="bold" >YTD</text>
<rect x="434.80" y="427.80" width="2.4" height="7.1" fill="#1ab488"/>
<rect x="438.72" y="427.80" width="2.4" height="7.1" fill="#1ab488"/>
<rect x="442.63" y="427.80" width="2.4" height="7.1" fill="#1ab488"/>
<rect x="446.55" y="427.80" width="2.4" height="7.1" fill="#1ab488"/>
<rect x="450.46" y="427.80" width="2.4" height="7.1" fill="#333"/>
<rect x="454.38" y="427.80" width="2.4" height="7.1" fill="#333"/>
<rect x="458.29" y="427.80" width="2.4" height="7.1" fill="#333"/>
<rect x="462.21" y="427.80" width="2.4" height="7.1" fill="#333"/>
<rect x="466.12" y="427.80" width="2.4" height="7.1" fill="#333"/>
<rect x="470.04" y="427.80" width="2.4" height="7.1" fill="#333"/>
<rect x="473.95" y="427.80" width="2.4" height="7.1" fill="#333"/>
<rect x="477.87" y="427.80" width="2.4" height="7.1" fill="#333"/>
<rect x="481.78" y="427.80" width="2.4" height="7.1" fill="#333"/>
<rect x="485.69" y="427.80" width="2.4" height="7.1" fill="#333"/>
<rect x="489.61" y="427.80" width="2.4" height="7.1" fill="#333"/>
<rect x="493.53" y="427.80" width="2.4" height="7.1" fill="#333"/>
<rect x="497.44" y="427.80" width="2.4" height="7.1" fill="#333"/>
<rect x="501.36" y="427.80" width="2.4" height="7.1" fill="#333"/>
<rect x="505.27" y="427.80" width="2.4" height="7.1" fill="#333"/>
<rect x="509.19" y="427.80" width="2.4" height="7.1" fill="#333"/>
<text x="520.00" y="433.99" font-size="6.5" fill="#333"  text-anchor="start" font-weight="bold" >1.8</text>
<text x="588.00" y="399.88" font-size="6.2" fill="#333"  text-anchor="start" font-weight="bold" >WTD</text>
<rect x="607.70" y="393.80" width="2.4" height="7.1" fill="#e8606e"/>
<rect x="611.62" y="393.80" width="2.4" height="7.1" fill="#e8606e"/>
<rect x="615.53" y="393.80" width="2.4" height="7.1" fill="#e8606e"/>
<rect x="619.45" y="393.80" width="2.4" height="7.1" fill="#e8606e"/>
<rect x="623.36" y="393.80" width="2.4" height="7.1" fill="#e8606e"/>
<rect x="627.28" y="393.80" width="2.4" height="7.1" fill="#e8606e"/>
<rect x="631.19" y="393.80" width="2.4" height="7.1" fill="#e8606e"/>
<rect x="635.11" y="393.80" width="2.4" height="7.1" fill="#e8606e"/>
<rect x="639.02" y="393.80" width="2.4" height="7.1" fill="#e8606e"/>
<rect x="642.94" y="393.80" width="2.4" height="7.1" fill="#333"/>
<rect x="646.85" y="393.80" width="2.4" height="7.1" fill="#333"/>
<rect x="650.77" y="393.80" width="2.4" height="7.1" fill="#333"/>
<rect x="654.68" y="393.80" width="2.4" height="7.1" fill="#333"/>
<rect x="658.60" y="393.80" width="2.4" height="7.1" fill="#333"/>
<rect x="662.51" y="393.80" width="2.4" height="7.1" fill="#333"/>
<rect x="666.43" y="393.80" width="2.4" height="7.1" fill="#333"/>
<rect x="670.34" y="393.80" width="2.4" height="7.1" fill="#333"/>
<rect x="674.26" y="393.80" width="2.4" height="7.1" fill="#333"/>
<rect x="678.17" y="393.80" width="2.4" height="7.1" fill="#333"/>
<rect x="682.09" y="393.80" width="2.4" height="7.1" fill="#333"/>
<text x="692.20" y="399.99" font-size="6.5" fill="#333"  text-anchor="start" font-weight="bold" >7.0</text>
<text x="588.00" y="416.88" font-size="6.2" fill="#333"  text-anchor="start" font-weight="bold" >MTD</text>
<rect x="607.70" y="410.80" width="2.4" height="7.1" fill="#e8606e"/>
<rect x="611.62" y="410.80" width="2.4" height="7.1" fill="#e8606e"/>
<rect x="615.53" y="410.80" width="2.4" height="7.1" fill="#e8606e"/>
<rect x="619.45" y="410.80" width="2.4" height="7.1" fill="#e8606e"/>
<rect x="623.36" y="410.80" width="2.4" height="7.1" fill="#e8606e"/>
<rect x="627.28" y="410.80" width="2.4" height="7.1" fill="#e8606e"/>
<rect x="631.19" y="410.80" width="2.4" height="7.1" fill="#e8606e"/>
<rect x="635.11" y="410.80" width="2.4" height="7.1" fill="#e8606e"/>
<rect x="639.02" y="410.80" width="2.4" height="7.1" fill="#e8606e"/>
<rect x="642.94" y="410.80" width="2.4" height="7.1" fill="#e8606e"/>
<rect x="646.85" y="410.80" width="2.4" height="7.1" fill="#e8606e"/>
<rect x="650.77" y="410.80" width="2.4" height="7.1" fill="#e8606e"/>
<rect x="654.68" y="410.80" width="2.4" height="7.1" fill="#333"/>
<rect x="658.60" y="410.80" width="2.4" height="7.1" fill="#333"/>
<rect x="662.51" y="410.80" width="2.4" height="7.1" fill="#333"/>
<rect x="666.43" y="410.80" width="2.4" height="7.1" fill="#333"/>
<rect x="670.34" y="410.80" width="2.4" height="7.1" fill="#333"/>
<rect x="674.26" y="410.80" width="2.4" height="7.1" fill="#333"/>
<rect x="678.17" y="410.80" width="2.4" height="7.1" fill="#333"/>
<rect x="682.09" y="410.80" width="2.4" height="7.1" fill="#333"/>
<text x="692.20" y="416.99" font-size="6.5" fill="#333"  text-anchor="start" font-weight="bold" >5.2</text>
<text x="588.00" y="433.88" font-size="6.2" fill="#333"  text-anchor="start" font-weight="bold" >YTD</text>
<rect x="607.70" y="427.80" width="2.4" height="7.1" fill="#e8606e"/>
<rect x="611.62" y="427.80" width="2.4" height="7.1" fill="#e8606e"/>
<rect x="615.53" y="427.80" width="2.4" height="7.1" fill="#e8606e"/>
<rect x="619.45" y="427.80" width="2.4" height="7.1" fill="#e8606e"/>
<rect x="623.36" y="427.80" width="2.4" height="7.1" fill="#e8606e"/>
<rect x="627.28" y="427.80" width="2.4" height="7.1" fill="#e8606e"/>
<rect x="631.19" y="427.80" width="2.4" height="7.1" fill="#e8606e"/>
<rect x="635.11" y="427.80" width="2.4" height="7.1" fill="#e8606e"/>
<rect x="639.02" y="427.80" width="2.4" height="7.1" fill="#e8606e"/>
<rect x="642.94" y="427.80" width="2.4" height="7.1" fill="#e8606e"/>
<rect x="646.85" y="427.80" width="2.4" height="7.1" fill="#e8606e"/>
<rect x="650.77" y="427.80" width="2.4" height="7.1" fill="#e8606e"/>
<rect x="654.68" y="427.80" width="2.4" height="7.1" fill="#e8606e"/>
<rect x="658.60" y="427.80" width="2.4" height="7.1" fill="#e8606e"/>
<rect x="662.51" y="427.80" width="2.4" height="7.1" fill="#e8606e"/>
<rect x="666.43" y="427.80" width="2.4" height="7.1" fill="#e8606e"/>
<rect x="670.34" y="427.80" width="2.4" height="7.1" fill="#333"/>
<rect x="674.26" y="427.80" width="2.4" height="7.1" fill="#333"/>
<rect x="678.17" y="427.80" width="2.4" height="7.1" fill="#333"/>
<rect x="682.09" y="427.80" width="2.4" height="7.1" fill="#333"/>
<text x="692.20" y="433.99" font-size="6.5" fill="#333"  text-anchor="start" font-weight="bold" >5.7</text>
<text x="768.40" y="399.88" font-size="6.2" fill="#333"  text-anchor="start" font-weight="bold" >WTD</text>
<rect x="788.80" y="393.80" width="2.4" height="7.1" fill="#1ab488"/>
<rect x="792.71" y="393.80" width="2.4" height="7.1" fill="#1ab488"/>
<rect x="796.63" y="393.80" width="2.4" height="7.1" fill="#1ab488"/>
<rect x="800.54" y="393.80" width="2.4" height="7.1" fill="#1ab488"/>
<rect x="804.46" y="393.80" width="2.4" height="7.1" fill="#1ab488"/>
<rect x="808.38" y="393.80" width="2.4" height="7.1" fill="#1ab488"/>
<rect x="812.29" y="393.80" width="2.4" height="7.1" fill="#1ab488"/>
<rect x="816.20" y="393.80" width="2.4" height="7.1" fill="#1ab488"/>
<rect x="820.12" y="393.80" width="2.4" height="7.1" fill="#1ab488"/>
<rect x="824.03" y="393.80" width="2.4" height="7.1" fill="#333"/>
<rect x="827.95" y="393.80" width="2.4" height="7.1" fill="#333"/>
<rect x="831.87" y="393.80" width="2.4" height="7.1" fill="#333"/>
<rect x="835.78" y="393.80" width="2.4" height="7.1" fill="#333"/>
<rect x="839.69" y="393.80" width="2.4" height="7.1" fill="#333"/>
<rect x="843.61" y="393.80" width="2.4" height="7.1" fill="#333"/>
<rect x="847.52" y="393.80" width="2.4" height="7.1" fill="#333"/>
<rect x="851.44" y="393.80" width="2.4" height="7.1" fill="#333"/>
<rect x="855.36" y="393.80" width="2.4" height="7.1" fill="#333"/>
<rect x="859.27" y="393.80" width="2.4" height="7.1" fill="#333"/>
<rect x="863.18" y="393.80" width="2.4" height="7.1" fill="#333"/>
<text x="873.40" y="399.99" font-size="6.5" fill="#333"  text-anchor="start" font-weight="bold" >4.6</text>
<text x="768.40" y="416.88" font-size="6.2" fill="#333"  text-anchor="start" font-weight="bold" >MTD</text>
<rect x="788.80" y="410.80" width="2.4" height="7.1" fill="#1ab488"/>
<rect x="792.71" y="410.80" width="2.4" height="7.1" fill="#1ab488"/>
<rect x="796.63" y="410.80" width="2.4" height="7.1" fill="#1ab488"/>
<rect x="800.54" y="410.80" width="2.4" height="7.1" fill="#1ab488"/>
<rect x="804.46" y="410.80" width="2.4" height="7.1" fill="#1ab488"/>
<rect x="808.38" y="410.80" width="2.4" height="7.1" fill="#1ab488"/>
<rect x="812.29" y="410.80" width="2.4" height="7.1" fill="#1ab488"/>
<rect x="816.20" y="410.80" width="2.4" height="7.1" fill="#1ab488"/>
<rect x="820.12" y="410.80" width="2.4" height="7.1" fill="#1ab488"/>
<rect x="824.03" y="410.80" width="2.4" height="7.1" fill="#1ab488"/>
<rect x="827.95" y="410.80" width="2.4" height="7.1" fill="#1ab488"/>
<rect x="831.87" y="410.80" width="2.4" height="7.1" fill="#1ab488"/>
<rect x="835.78" y="410.80" width="2.4" height="7.1" fill="#333"/>
<rect x="839.69" y="410.80" width="2.4" height="7.1" fill="#333"/>
<rect x="843.61" y="410.80" width="2.4" height="7.1" fill="#333"/>
<rect x="847.52" y="410.80" width="2.4" height="7.1" fill="#333"/>
<rect x="851.44" y="410.80" width="2.4" height="7.1" fill="#333"/>
<rect x="855.36" y="410.80" width="2.4" height="7.1" fill="#333"/>
<rect x="859.27" y="410.80" width="2.4" height="7.1" fill="#333"/>
<rect x="863.18" y="410.80" width="2.4" height="7.1" fill="#333"/>
<text x="873.40" y="416.99" font-size="6.5" fill="#333"  text-anchor="start" font-weight="bold" >4.7</text>
<text x="768.40" y="433.88" font-size="6.2" fill="#333"  text-anchor="start" font-weight="bold" >YTD</text>
<rect x="788.80" y="427.80" width="2.4" height="7.1" fill="#1ab488"/>
<rect x="792.71" y="427.80" width="2.4" height="7.1" fill="#1ab488"/>
<rect x="796.63" y="427.80" width="2.4" height="7.1" fill="#1ab488"/>
<rect x="800.54" y="427.80" width="2.4" height="7.1" fill="#1ab488"/>
<rect x="804.46" y="427.80" width="2.4" height="7.1" fill="#1ab488"/>
<rect x="808.38" y="427.80" width="2.4" height="7.1" fill="#1ab488"/>
<rect x="812.29" y="427.80" width="2.4" height="7.1" fill="#1ab488"/>
<rect x="816.20" y="427.80" width="2.4" height="7.1" fill="#1ab488"/>
<rect x="820.12" y="427.80" width="2.4" height="7.1" fill="#1ab488"/>
<rect x="824.03" y="427.80" width="2.4" height="7.1" fill="#1ab488"/>
<rect x="827.95" y="427.80" width="2.4" height="7.1" fill="#1ab488"/>
<rect x="831.87" y="427.80" width="2.4" height="7.1" fill="#1ab488"/>
<rect x="835.78" y="427.80" width="2.4" height="7.1" fill="#1ab488"/>
<rect x="839.69" y="427.80" width="2.4" height="7.1" fill="#1ab488"/>
<rect x="843.61" y="427.80" width="2.4" height="7.1" fill="#1ab488"/>
<rect x="847.52" y="427.80" width="2.4" height="7.1" fill="#1ab488"/>
<rect x="851.44" y="427.80" width="2.4" height="7.1" fill="#333"/>
<rect x="855.36" y="427.80" width="2.4" height="7.1" fill="#333"/>
<rect x="859.27" y="427.80" width="2.4" height="7.1" fill="#333"/>
<rect x="863.18" y="427.80" width="2.4" height="7.1" fill="#333"/>
<text x="873.40" y="433.99" font-size="6.5" fill="#333"  text-anchor="start" font-weight="bold" >3.4</text>
</svg>
</body></html>
